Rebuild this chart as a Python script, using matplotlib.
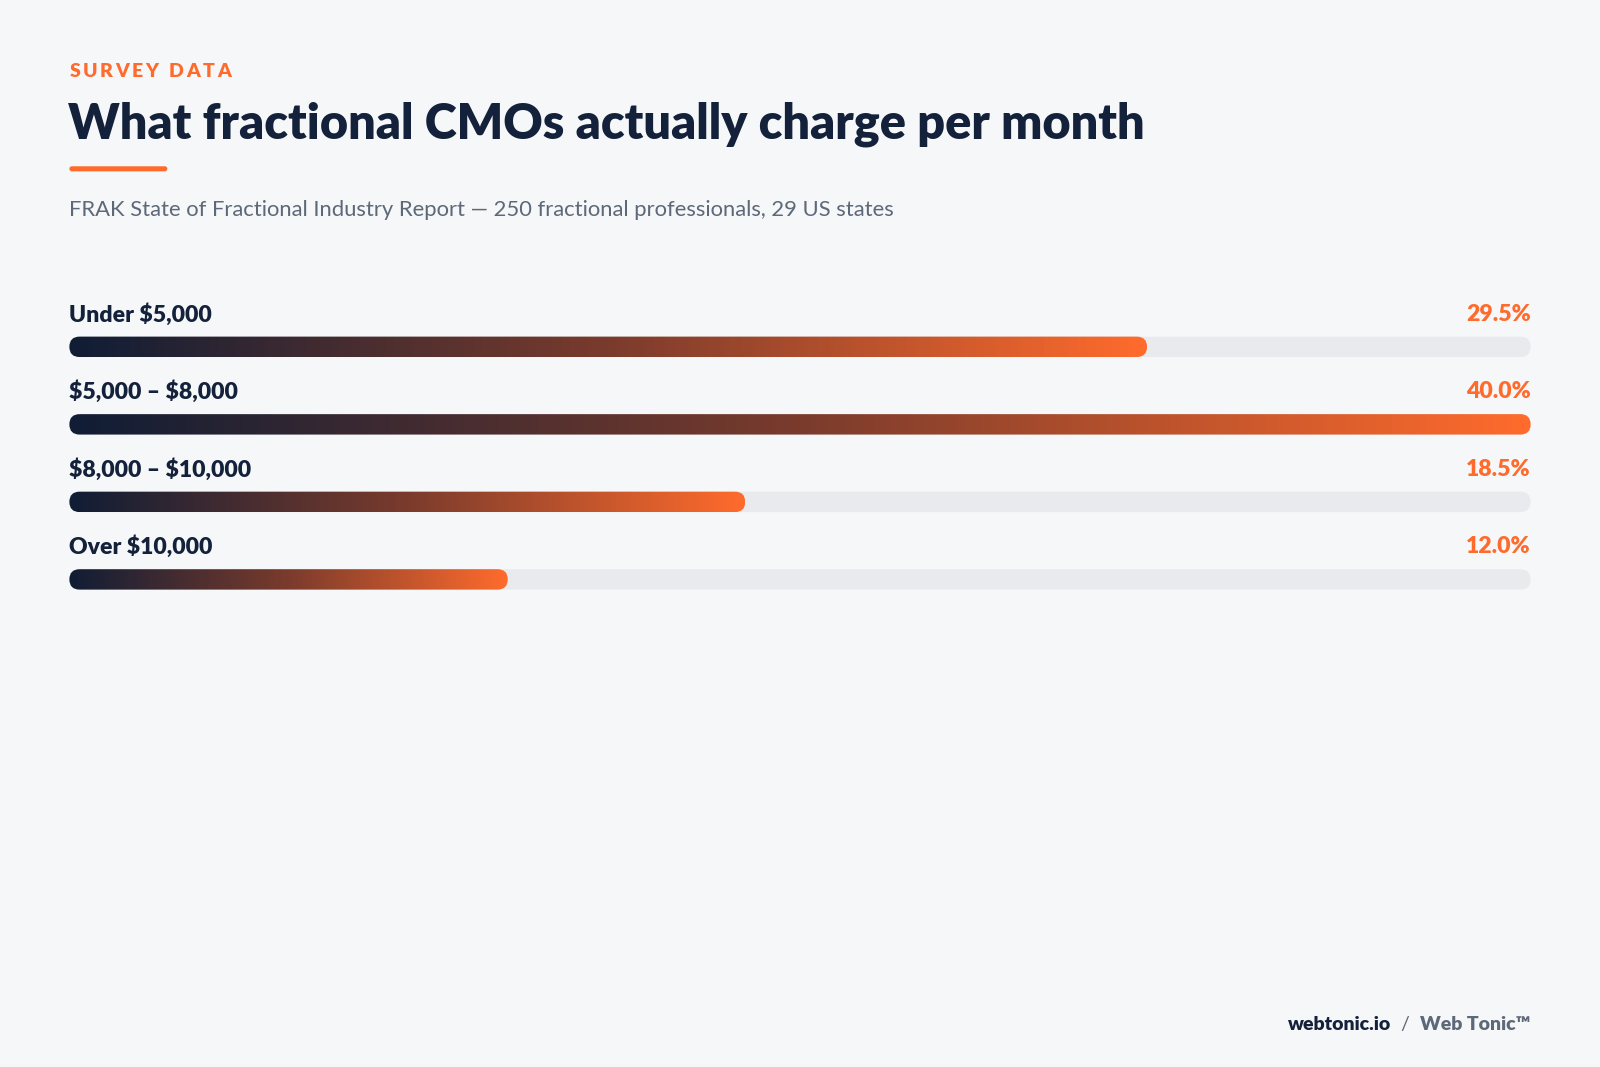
import numpy as np
import matplotlib.pyplot as plt
from matplotlib.patches import FancyBboxPatch
from matplotlib.colors import LinearSegmentedColormap

categories = ['Under $5,000', '$5,000 – $8,000', '$8,000 – $10,000', 'Over $10,000']
shares = [29.5, 40.0, 18.5, 12.0]
value_labels = ['29.5%', '40.0%', '18.5%', '12.0%']

plt.rcParams['font.family'] = ['Lato', 'DejaVu Sans']
plt.rcParams['text.parse_math'] = False
W, H = 1568, 1046
fig = plt.figure(figsize=(16, 10.67), dpi=100)
fig.patch.set_facecolor('#f6f7f9')
ax = fig.add_axes([0, 0, 1, 1])
ax.set_xlim(0, W)
ax.set_ylim(H, 0)
ax.axis('off')

navy = '#14213a'
orange = '#ff6b2c'
cmap = LinearSegmentedColormap.from_list('g', ['#101d35', '#7a3b2c', orange])

# letter-spaced kicker
renderer = fig.canvas.get_renderer()
x = 68
for ch in 'SURVEY DATA':
    t = ax.text(x, 70, ch, color=orange, fontsize=14, fontweight='heavy', va='center')
    bb = t.get_window_extent(renderer)
    w = bb.width * W / fig.bbox.width if ch != ' ' else 5
    x += w + 2.5

ax.text(67, 122, 'What fractional CMOs actually charge per month', color=navy,
        fontsize=35, fontweight='heavy', va='center')
ax.add_patch(FancyBboxPatch((68, 163), 96, 5, boxstyle='round,pad=0,rounding_size=2.5',
                            fc=orange, ec='none'))
ax.text(68, 206, 'FRAK State of Fractional Industry Report — 250 fractional professionals, 29 US states',
        color='#5d6878', fontsize=15.85, va='center')

x0, x1 = 68, 1500
bh = 20
vmax = max(shares)
for i, (cat, v, lab) in enumerate(zip(categories, shares, value_labels)):
    ty = 308 + i * 76
    by = 340 + i * 76
    ax.text(x0, ty, cat, color=navy, fontsize=16.6, fontweight='heavy', va='center')
    ax.text(x1, ty, lab, color=orange, fontsize=16.6, fontweight='heavy', va='center', ha='right')
    ax.add_patch(FancyBboxPatch((x0, by - bh / 2), x1 - x0, bh,
                                boxstyle='round,pad=0,rounding_size=10', fc='#e8eaee', ec='none',
                                zorder=1))
    xe = x0 + (x1 - x0) * v / vmax
    clip = FancyBboxPatch((x0, by - bh / 2), xe - x0, bh,
                          boxstyle='round,pad=0,rounding_size=10', fc='none', ec='none')
    ax.add_patch(clip)
    grad = np.linspace(0, 1, 256).reshape(1, -1)
    im = ax.imshow(grad, cmap=cmap, extent=(x0, xe, by + bh / 2, by - bh / 2),
                   aspect='auto', interpolation='bilinear', zorder=2)
    im.set_clip_path(clip)

ax.set_xlim(0, W)
ax.set_ylim(H, 0)
ax.text(1363, 1004, 'webtonic.io', color=navy, fontsize=14, fontweight='heavy', va='center', ha='right')
ax.text(1377, 1004, '/', color='#5d6878', fontsize=14, va='center', ha='center')
ax.text(1500, 1004, 'Web Tonic™', color='#5d6878', fontsize=14, fontweight='heavy', va='center', ha='right')

fig.savefig('out.png', dpi=100, facecolor=fig.get_facecolor())
